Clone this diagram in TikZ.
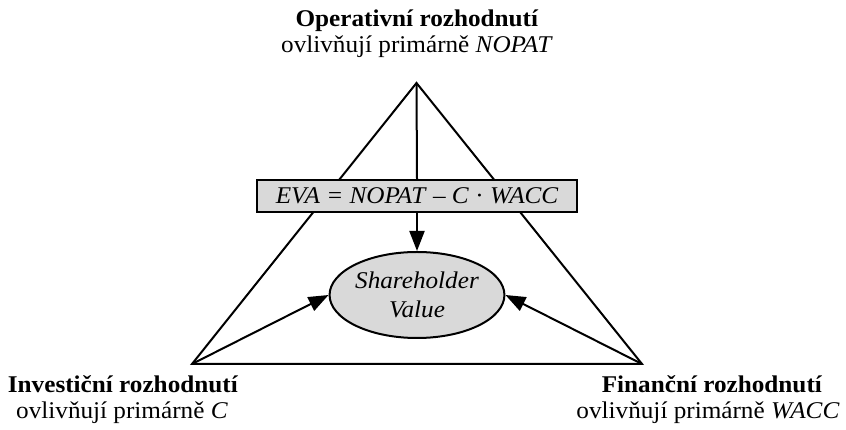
\documentclass[tikz,border=0pt]{standalone}
\usepackage{fontspec}
\setmainfont{Liberation Serif}[FakeStretch=1.05]
\usetikzlibrary{arrows.meta,shapes.geometric}
\tikzset{
  edge/.style={line width=2pt},
  arr/.style={line width=2pt,-{Triangle[length=20pt,width=15pt]}},
  lab/.style={align=center,font=\fontsize{24}{29}\selectfont,inner sep=0pt},
  evabox/.style={draw,line width=2pt,fill=black!15,minimum width=320pt,minimum height=32pt,inner sep=0pt,font=\fontsize{24}{29}\selectfont\itshape},
  sv/.style={ellipse,draw,line width=2pt,fill=black!15,minimum width=173pt,minimum height=86pt,inner sep=0pt,align=center,font=\fontsize{24}{29}\selectfont\itshape}
}
\begin{document}
\begin{tikzpicture}[x=1pt,y=1pt]
\useasboundingbox (0,0) rectangle (846,430);
\coordinate (A) at (416.5,347);
\coordinate (L) at (192,66);
\coordinate (R) at (642,66);
\draw[edge,line join=miter] (A) -- (L) -- (R) -- cycle;
\node[evabox] (eva) at (417,234) {EVA = NOPAT \textup{–} C \textup{·} WACC};
\draw[edge] (A) -- (eva.north);
\node[sv] (sv) at (417,135) {Shareholder\\Value};
\draw[arr] (eva.south) -- (sv.north);
\draw[arr] (L) -- (sv.west);
\draw[arr] (R) -- (sv.east);
\node[lab,anchor=base] (t1) at (417,403) {\textbf{Operativní rozhodnutí}};
\node[lab,anchor=base] (t2) at (417,377) {ovlivňují primárně \textit{NOPAT}};
\node[lab,anchor=base] (l1) at (123,37) {\textbf{Investiční rozhodnutí}};
\node[lab,anchor=base] (l2) at (122,11) {ovlivňují primárně \textit{C}};
\node[lab,anchor=base] (r1) at (712,37) {\textbf{Finanční rozhodnutí}};
\node[lab,anchor=base] (r2) at (708,11) {ovlivňují primárně \textit{WACC}};
\end{tikzpicture}
\end{document}
